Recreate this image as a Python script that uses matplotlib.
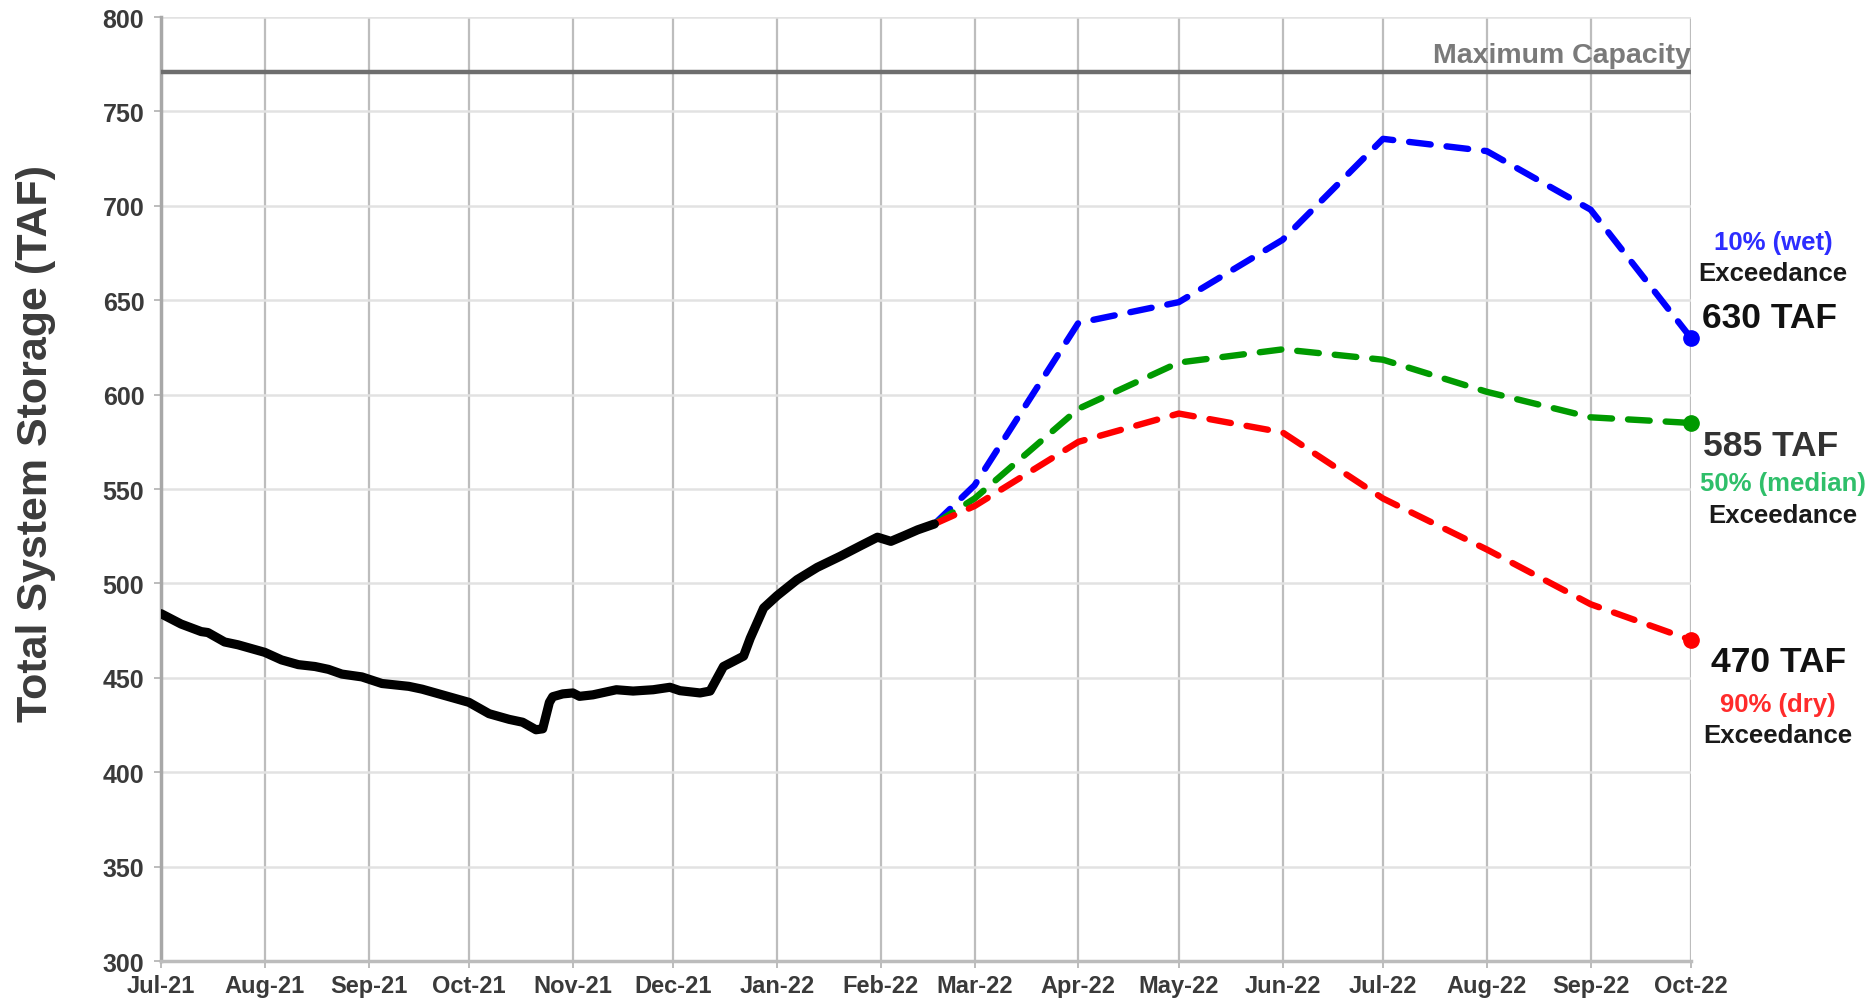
import matplotlib
matplotlib.use("Agg")
import matplotlib.pyplot as plt
import matplotlib.dates as mdates
import matplotlib.transforms as mtransforms
import pandas as pd

plt.rcParams['font.family'] = ['Liberation Sans', 'DejaVu Sans']

# ---- data ----
hist_dates = ["2021-07-01", "2021-07-07", "2021-07-13", "2021-07-15", "2021-07-20", "2021-07-24",
              "2021-07-28", "2021-08-01", "2021-08-06", "2021-08-11", "2021-08-16", "2021-08-20",
              "2021-08-24", "2021-08-30", "2021-09-05", "2021-09-13", "2021-09-17", "2021-09-23",
              "2021-10-01", "2021-10-07", "2021-10-13", "2021-10-17", "2021-10-21", "2021-10-23",
              "2021-10-25", "2021-10-26", "2021-10-29", "2021-11-01", "2021-11-03", "2021-11-07",
              "2021-11-14", "2021-11-19", "2021-11-25", "2021-11-30", "2021-12-03", "2021-12-09",
              "2021-12-12", "2021-12-16", "2021-12-22", "2021-12-24", "2021-12-28", "2022-01-01",
              "2022-01-07", "2022-01-13", "2022-01-20", "2022-01-26", "2022-01-31", "2022-02-04",
              "2022-02-08", "2022-02-12", "2022-02-17"]
hist_values = [484, 478.5, 474.5, 474, 469, 467.5,
               465.5, 463.5, 459.5, 457, 456, 454.5,
               452, 450.5, 447, 445.5, 444, 441,
               437, 431, 428, 426.5, 422.5, 423,
               437, 440, 441.5, 442, 440.2, 441,
               443.7, 443, 443.7, 445, 443.2, 442,
               443, 456, 461.5, 471, 487, 493.5,
               502, 508.5, 514.5, 520, 524.5, 522.3,
               525.3, 528.4, 531.5]

fc_dates = ["2022-02-17", "2022-03-01", "2022-04-01", "2022-05-01", "2022-06-01",
            "2022-07-01", "2022-08-01", "2022-09-01", "2022-10-01"]
wet_values = [531.5, 552, 638, 649, 682, 735.5, 729, 698, 630]
median_values = [531.5, 545, 592.5, 617, 624, 618.5, 601.5, 588, 585]
dry_values = [531.5, 541, 575, 590, 580, 545, 518, 489, 470]

max_capacity = 771
month_ticks = pd.date_range("2021-07-01", "2022-10-01", freq="MS")
y_ticks = [300, 350, 400, 450, 500, 550, 600, 650, 700, 750, 800]

hist_x = pd.to_datetime(hist_dates)
fc_x = pd.to_datetime(fc_dates)

# ---- figure ----
fig = plt.figure(figsize=(18.70, 10.04), dpi=100)
ax = fig.add_axes([0.0861, 0.0418, 0.8182, 0.9402])

ax.set_xlim(pd.Timestamp("2021-07-01"), pd.Timestamp("2022-10-01"))
ax.set_ylim(300, 800)
ax.set_xticks(month_ticks)
ax.xaxis.set_major_formatter(mdates.DateFormatter("%b-%y"))
ax.set_yticks(y_ticks)

ax.grid(axis='x', color='#bdbdbd', linewidth=1.6, zorder=0)
ax.grid(axis='y', color='#e2e2e2', linewidth=1.8, zorder=0)
for s in ['top', 'right']:
    ax.spines[s].set_visible(False)
ax.spines['left'].set_color('#a8a8a8')
ax.spines['left'].set_linewidth(2.5)
ax.spines['bottom'].set_color('#bcbcbc')
ax.spines['bottom'].set_linewidth(2.5)
ax.tick_params(axis='both', colors='#b0b0b0', length=5, width=1.2, labelcolor='#3a3a3a')
ax.tick_params(axis='y', pad=7)
ax.tick_params(axis='x', pad=4)
for lab_ in ax.get_xticklabels():
    lab_.set_fontweight('bold')
    lab_.set_fontsize(17)
for lab_ in ax.get_yticklabels():
    lab_.set_fontweight('bold')
    lab_.set_fontsize(18)

# max capacity line
bt = mtransforms.blended_transform_factory(ax.transAxes, ax.transData)
ax.axhline(max_capacity, color='#6e6e6e', linewidth=3.2, zorder=3)
ax.text(1.0, max_capacity + 2, "Maximum Capacity", transform=bt,
        ha='right', va='bottom', fontsize=20.5, fontweight='bold', color='#7a7a7a', zorder=4)

# forecasts
dash = (3.4, 2.5)
ax.plot(fc_x, wet_values, color='#0000ff', linewidth=4.6, linestyle=(0, dash),
        dash_capstyle='round', zorder=4)
ax.plot(fc_x, median_values, color='#009a00', linewidth=4.6, linestyle=(0, dash),
        dash_capstyle='round', zorder=4)
ax.plot(fc_x, dry_values, color='#ff0000', linewidth=4.6, linestyle=(0, dash),
        dash_capstyle='round', zorder=5)
ax.plot([fc_x[-1]], [wet_values[-1]], 'o', color='#0000ff', markersize=11, zorder=6, clip_on=False)
ax.plot([fc_x[-1]], [median_values[-1]], 'o', color='#009a00', markersize=11, zorder=6, clip_on=False)
ax.plot([fc_x[-1]], [dry_values[-1]], 'o', color='#ff0000', markersize=11, zorder=6, clip_on=False)

# historical
ax.plot(hist_x, hist_values, color='black', linewidth=6.6, solid_capstyle='round',
        solid_joinstyle='round', zorder=5)

# right-side annotations
def lab(x, y, s, size, color):
    ax.text(x, y, s, transform=bt, ha='center', va='center', fontsize=size,
            fontweight='bold', color=color, clip_on=False)

lab(1.0536, 681.0, "10% (wet)", 18.5, '#2d2dff')
lab(1.0536, 664.5, "Exceedance", 18.5, '#1a1a1a')
lab(1.0516, 641.1, "630 TAF", 25.5, '#111111')
lab(1.0523, 573.3, "585 TAF", 25.5, '#333333')
lab(1.0601, 553.2, "50% (median)", 18.5, '#2fbf6a')
lab(1.0601, 536.2, "Exceedance", 18.5, '#1a1a1a')
lab(1.0569, 458.4, "470 TAF", 25.5, '#111111')
lab(1.0569, 436.1, "90% (dry)", 18.5, '#ff2b2b')
lab(1.0569, 419.7, "Exceedance", 18.5, '#1a1a1a')

fig.text(36 / 1870, 1 - 443 / 1004, "Total System Storage (TAF)", rotation=90,
         ha='center', va='center', fontsize=31, fontweight='bold',
         family=['Liberation Sans Narrow', 'Liberation Sans', 'DejaVu Sans'], color='#3c3c3c')

fig.savefig("out.png", dpi=100)
